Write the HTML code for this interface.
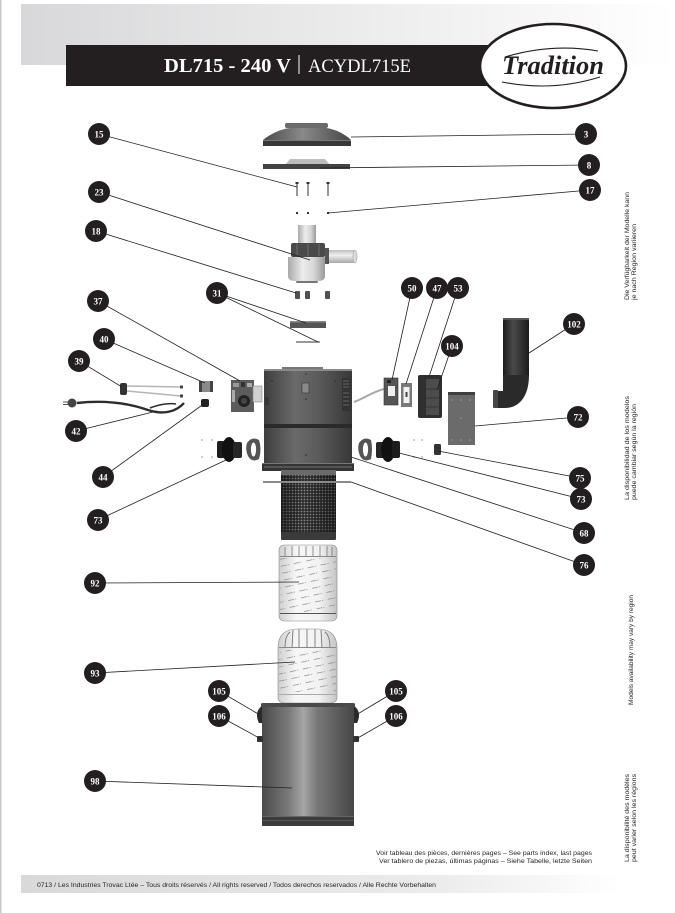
<!DOCTYPE html>
<html><head><meta charset="utf-8"><style>
html,body{margin:0;padding:0;background:#fff;}
body{width:675px;height:913px;overflow:hidden;}
svg{display:block;}
.c{fill:#231f20;}
.n{font-family:"Liberation Serif",serif;font-weight:bold;font-size:9px;fill:#fff;text-anchor:middle;}
.l{stroke:#231f20;stroke-width:0.8;fill:none;}
.s{font-family:"Liberation Sans",sans-serif;font-size:6px;fill:#231f20;}
</style></head><body>
<svg width="675" height="913" viewBox="0 0 675 913" xmlns="http://www.w3.org/2000/svg">
<defs>
<linearGradient id="hdr" x1="0" x2="1" y1="0" y2="0"><stop offset="0" stop-color="#d8d8da"/><stop offset="0.65" stop-color="#f1f1f1"/><stop offset="1" stop-color="#fff"/></linearGradient>
<linearGradient id="ftr" x1="0" x2="1" y1="0" y2="0"><stop offset="0" stop-color="#d9d9d9"/><stop offset="0.7" stop-color="#ececec"/><stop offset="1" stop-color="#fff"/></linearGradient>
<linearGradient id="gDark" x1="0" x2="1"><stop offset="0" stop-color="#3e3e3e"/><stop offset="0.35" stop-color="#6a6a6a"/><stop offset="0.6" stop-color="#5c5c5c"/><stop offset="1" stop-color="#383838"/></linearGradient>
<linearGradient id="gLight" x1="0" x2="1"><stop offset="0" stop-color="#a9a9a9"/><stop offset="0.4" stop-color="#ececec"/><stop offset="0.7" stop-color="#d6d6d6"/><stop offset="1" stop-color="#9a9a9a"/></linearGradient>
<linearGradient id="gLightV" x1="0" x2="0" y1="0" y2="1"><stop offset="0" stop-color="#bdbdbd"/><stop offset="0.4" stop-color="#f0f0f0"/><stop offset="1" stop-color="#a8a8a8"/></linearGradient>
<linearGradient id="gFilt" x1="0" x2="1"><stop offset="0" stop-color="#cfcfcf"/><stop offset="0.3" stop-color="#f7f7f7"/><stop offset="0.7" stop-color="#f2f2f2"/><stop offset="1" stop-color="#c4c4c4"/></linearGradient>
<linearGradient id="gCan" x1="0" x2="1"><stop offset="0" stop-color="#4a4a4a"/><stop offset="0.3" stop-color="#7c7c7c"/><stop offset="0.45" stop-color="#a6a6a6"/><stop offset="0.6" stop-color="#787878"/><stop offset="1" stop-color="#464646"/></linearGradient>
<linearGradient id="gBlk" x1="0" x2="1"><stop offset="0" stop-color="#1b1b1b"/><stop offset="0.4" stop-color="#4a4a4a"/><stop offset="1" stop-color="#1b1b1b"/></linearGradient>
<linearGradient id="gLid" x1="0" x2="1"><stop offset="0" stop-color="#4a4a4a"/><stop offset="0.45" stop-color="#8a8a8a"/><stop offset="1" stop-color="#454545"/></linearGradient>
<linearGradient id="shade" x1="0" x2="1"><stop offset="0" stop-color="#000" stop-opacity="0.45"/><stop offset="0.4" stop-color="#000" stop-opacity="0"/><stop offset="1" stop-color="#000" stop-opacity="0.45"/></linearGradient>
<pattern id="mesh" width="3" height="3" patternUnits="userSpaceOnUse"><rect width="3" height="3" fill="#2c2c2c"/><circle cx="1.5" cy="1.5" r="0.9" fill="#8c8c8c"/></pattern>
<pattern id="fdash" width="13" height="7" patternUnits="userSpaceOnUse" patternTransform="rotate(-12)"><rect x="1" y="3" width="6" height="0.7" fill="#8a8a8a"/><rect x="8" y="3" width="1.2" height="0.7" fill="#8a8a8a"/></pattern>
</defs>

<!-- page edge -->
<rect x="0" y="0" width="1.5" height="913" fill="#c8c8c8"/>

<!-- header -->
<rect x="21" y="4" width="654" height="61" fill="url(#hdr)"/>
<rect x="66" y="45" width="460" height="41" fill="#231f20"/>
<text x="164" y="72" font-family="Liberation Serif,serif" font-weight="bold" font-size="20" fill="#fff" textLength="127" lengthAdjust="spacingAndGlyphs">DL715 - 240 V</text>
<rect x="298.5" y="55" width="1" height="19" fill="#fff"/>
<text x="308" y="72" font-family="Liberation Serif,serif" font-size="19" fill="#fff" textLength="103" lengthAdjust="spacingAndGlyphs">ACYDL715E</text>
<ellipse cx="553" cy="66" rx="73" ry="42" fill="#fff" stroke="#231f20" stroke-width="2.6"/>
<path d="M505,57 Q552,43 598,51" stroke="#231f20" stroke-width="1.1" fill="none"/>
<path d="M502,82 Q552,92 600,77" stroke="#231f20" stroke-width="1.1" fill="none"/>
<text x="502" y="74" font-family="Liberation Serif,serif" font-weight="bold" font-style="italic" font-size="26" fill="#231f20" textLength="102" lengthAdjust="spacingAndGlyphs">Tradition</text>

<!-- side texts -->
<text class="s" transform="translate(629,300) rotate(-90)" textLength="108" lengthAdjust="spacingAndGlyphs">Die Verfügbarkeit der Modelle kann</text>
<text class="s" transform="translate(636,300) rotate(-90)" textLength="76" lengthAdjust="spacingAndGlyphs">je nach Region variieren</text>
<text class="s" transform="translate(629,500) rotate(-90)" textLength="104" lengthAdjust="spacingAndGlyphs">La disponibilidad de los modelos</text>
<text class="s" transform="translate(636,500) rotate(-90)" textLength="96" lengthAdjust="spacingAndGlyphs">puede cambiar según la región</text>
<text class="s" transform="translate(633,705) rotate(-90)" textLength="110" lengthAdjust="spacingAndGlyphs">Models availability may vary by region</text>
<text class="s" transform="translate(629,862) rotate(-90)" textLength="88" lengthAdjust="spacingAndGlyphs">La disponibilité des modèles</text>
<text class="s" transform="translate(636,862) rotate(-90)" textLength="88" lengthAdjust="spacingAndGlyphs">peut varier selon les régions</text>

<!-- footer -->
<text class="s" x="592" y="855" text-anchor="end" textLength="216" lengthAdjust="spacingAndGlyphs">Voir tableau des pièces, dernières pages – See parts index, last pages</text>
<text class="s" x="592" y="863" text-anchor="end" textLength="213" lengthAdjust="spacingAndGlyphs">Ver tablero de piezas, últimas páginas – Siehe Tabelle, letzte Seiten</text>
<rect x="21" y="875" width="600" height="18" fill="url(#ftr)"/>
<text class="s" x="37" y="887" textLength="399" lengthAdjust="spacingAndGlyphs">0713 / Les Industries Trovac Ltée – Tous droits réservés / All rights reserved / Todos derechos reservados / Alle Rechte Vorbehalten</text>

<!-- ===== PARTS ===== -->
<!-- lid 3 -->
<rect x="285" y="123" width="43" height="5" rx="2" fill="#6a6a6a"/>
<path d="M263,146 L263,140 C270,134 281,129 290,128 L326,128 C335,129 345,134 351,140 L351,146 Z" fill="url(#gLid)"/>
<rect x="263" y="141" width="88" height="5" fill="#383838"/>
<rect x="263" y="140" width="88" height="1" fill="#777"/>
<!-- gasket 8 -->
<path d="M285,165 L290,159 L325,159 L330,165 Z" fill="#bdbdbd"/>
<rect x="263" y="164" width="87" height="5" fill="#434343"/>
<!-- screws 15 -->
<g fill="#333">
<rect x="296.5" y="183" width="1" height="13"/><rect x="295.5" y="182" width="3" height="2"/>
<rect x="307.5" y="183" width="1" height="13"/><rect x="306.5" y="182" width="3" height="2"/>
<rect x="327.5" y="183" width="1" height="13"/><rect x="326.5" y="182" width="3" height="2"/>
<!-- nuts 17 -->
<rect x="296" y="212" width="2" height="2"/><rect x="307" y="212" width="2" height="2"/><rect x="327" y="212" width="2" height="2"/>
</g>
<!-- motor 23 -->
<rect x="298" y="225" width="18" height="20" fill="url(#gLight)"/>
<rect x="325" y="250" width="30" height="13" fill="url(#gLightV)"/>
<ellipse cx="355" cy="256.5" rx="2" ry="6.5" fill="#ddd" stroke="#999" stroke-width="0.5"/>
<path d="M288,257 L325,257 L325,276 Q325,281 318,281 L295,281 Q288,281 288,276 Z" fill="url(#gLight)"/>
<rect x="291" y="243" width="34" height="14" rx="2" fill="#4a4a4a"/>
<g stroke="#777" stroke-width="0.8"><line x1="297" y1="244" x2="297" y2="256"/><line x1="308" y1="244" x2="308" y2="256"/><line x1="319" y1="244" x2="319" y2="256"/></g>
<rect x="325" y="248" width="4" height="16" fill="#555"/>
<rect x="296" y="281" width="22" height="2" rx="1" fill="#777"/>
<!-- feet 18 -->
<g fill="#505050"><rect x="295" y="291" width="5" height="8" rx="1"/><rect x="305" y="291" width="5" height="8" rx="1"/><rect x="325" y="291" width="5" height="8" rx="1"/></g>
<!-- ring 31 -->
<rect x="290" y="321" width="36" height="7" fill="#555"/>
<rect x="290" y="321" width="36" height="1.5" fill="#8a8a8a"/>
<rect x="296" y="341" width="24" height="2" fill="#9a9a9a"/>

<!-- housing -->
<rect x="282" y="367" width="41" height="2" fill="#777"/>
<rect x="264" y="369" width="88" height="56" fill="url(#gDark)"/>
<rect x="264" y="369" width="88" height="2" fill="#8a8a8a"/>
<rect x="302" y="383" width="7" height="10" fill="#8a8a8a" stroke="#333" stroke-width="0.6"/>
<rect x="342" y="378" width="8" height="33" fill="#333"/>
<g stroke="#888" stroke-width="0.6"><line x1="343" y1="381" x2="349" y2="381"/><line x1="343" y1="384" x2="349" y2="384"/><line x1="343" y1="387" x2="349" y2="387"/><line x1="343" y1="393" x2="349" y2="393"/><line x1="343" y1="397" x2="349" y2="397"/><line x1="343" y1="401" x2="349" y2="401"/><line x1="343" y1="405" x2="349" y2="405"/></g>
<g stroke="#222" stroke-width="0.7"><line x1="265" y1="398" x2="269" y2="398"/><line x1="265" y1="400" x2="269" y2="400"/><line x1="265" y1="402" x2="269" y2="402"/><line x1="265" y1="404" x2="269" y2="404"/></g>
<g fill="#2a2a2a"><circle cx="306" cy="374" r="0.8"/><circle cx="306" cy="399" r="0.8"/><circle cx="272" cy="381" r="0.8"/><circle cx="335" cy="381" r="0.8"/></g>
<rect x="264" y="424" width="88" height="4" fill="#2a2a2a"/>
<rect x="264" y="428" width="88" height="36" fill="url(#gDark)"/>
<rect x="262" y="463" width="92" height="8" fill="#353535"/>
<rect x="262" y="463" width="92" height="1" fill="#777"/>
<rect x="264" y="466" width="88" height="2" fill="#555"/>
<circle cx="306" cy="455" r="0.8" fill="#2a2a2a"/>

<!-- cage 76 -->
<rect x="281" y="470" width="55" height="69" fill="url(#mesh)"/>
<rect x="281" y="470" width="55" height="69" fill="url(#shade)"/>
<rect x="281" y="470" width="55" height="5" fill="#6a6a6a"/>
<rect x="281" y="532" width="55" height="8" rx="1" fill="#3a3a3a"/>
<rect x="263" y="481" width="88" height="2" fill="#8a8a8a"/>

<!-- filter 92 -->
<rect x="279" y="545" width="58" height="76" rx="5" fill="url(#gFilt)" stroke="#888" stroke-width="0.6"/>
<rect x="280" y="558" width="56" height="54" fill="url(#fdash)"/>
<g stroke="#777" stroke-width="0.8"><line x1="285" y1="547" x2="285" y2="557"/><line x1="292" y1="546" x2="292" y2="557"/><line x1="299" y1="546" x2="299" y2="557"/><line x1="306" y1="546" x2="306" y2="557"/><line x1="313" y1="546" x2="313" y2="557"/><line x1="320" y1="546" x2="320" y2="557"/><line x1="327" y1="546" x2="327" y2="557"/><line x1="332" y1="547" x2="332" y2="557"/></g>
<rect x="280" y="556" width="56" height="1" fill="#888"/>
<rect x="280" y="613" width="56" height="1" fill="#555"/>

<!-- filter 93 -->
<path d="M278,648 Q278,629 298,629 L317,629 Q337,629 337,648 L337,697 Q337,703 330,703 L285,703 Q278,703 278,697 Z" fill="url(#gFilt)" stroke="#888" stroke-width="0.6"/>
<rect x="279" y="650" width="57" height="42" fill="url(#fdash)"/>
<g stroke="#777" stroke-width="0.9" fill="none"><path d="M285,647 Q285,636 290,632"/><path d="M292,647 L293,630"/><path d="M299,647 L299,629"/><path d="M307,647 L307,629"/><path d="M315,647 L315,629"/><path d="M322,647 L321,630"/><path d="M330,647 Q330,636 325,632"/></g>
<rect x="279" y="647" width="57" height="1" fill="#888"/>
<rect x="279" y="694" width="57" height="1" fill="#aaa"/>

<!-- canister 98 -->
<rect x="262" y="705" width="92" height="121" fill="url(#gCan)"/>
<rect x="261" y="703" width="94" height="4" rx="1.5" fill="#4a4a4a"/>
<rect x="262" y="816" width="92" height="10" fill="#3c3c3c"/>
<rect x="262" y="816" width="92" height="1" fill="#666"/>
<rect x="262" y="820" width="92" height="1" fill="#555"/>
<path d="M262,706 C256,710 256,717 259,723 L262,723 Z" fill="#2a2a2a"/>
<path d="M354,706 C360,710 360,717 357,723 L354,723 Z" fill="#2a2a2a"/>
<rect x="257" y="736" width="6" height="6" rx="1" fill="#333"/>
<rect x="353" y="736" width="6" height="6" rx="1" fill="#333"/>

<!-- left parts -->
<path d="M77,403 C105,400 128,403 148,410 C163,415 176,412 184,403" stroke="#2d2d2d" stroke-width="2.4" fill="none"/>
<path d="M150,408 C160,404 170,403 176,404" stroke="#2d2d2d" stroke-width="1.6" fill="none"/>
<circle cx="72" cy="403" r="4.5" fill="#444"/>
<rect x="63" y="401.5" width="6" height="1" fill="#555"/><rect x="63" y="404" width="6" height="1" fill="#555"/>
<rect x="120" y="383" width="7" height="12" rx="2" fill="#333"/>
<line x1="127" y1="386" x2="181" y2="387" stroke="#b5b5b5" stroke-width="1.5"/>
<line x1="127" y1="391" x2="181" y2="396" stroke="#b5b5b5" stroke-width="1.5"/>
<rect x="180" y="385.5" width="3" height="3" fill="#444"/><rect x="180" y="394.5" width="3" height="3" fill="#444"/>
<rect x="199" y="381" width="14" height="11" rx="2" fill="#8a8a8a"/>
<rect x="199" y="381" width="3" height="11" fill="#444"/><rect x="210" y="381" width="3" height="11" fill="#444"/>
<rect x="201" y="399" width="8" height="8" rx="2" fill="#222"/>
<!-- PCB 37 -->
<rect x="231" y="380" width="23" height="32" fill="#5c5c5c"/>
<rect x="253" y="386" width="9" height="16" fill="#d0d0d0" stroke="#888" stroke-width="0.6"/>
<rect x="233" y="383" width="6" height="4" fill="#999"/><rect x="241" y="382" width="4" height="5" fill="#333"/><rect x="247" y="383" width="5" height="4" fill="#aaa"/>
<rect x="232" y="390" width="3" height="12" fill="#aaa"/>
<circle cx="244" cy="401" r="6" fill="#222"/>
<circle cx="244" cy="401" r="3" fill="#444"/>
<!-- left elbow & gasket 73 -->
<rect x="217" y="441" width="8" height="17" rx="2" fill="#1d1d1d"/>
<ellipse cx="229" cy="449.5" rx="7" ry="12.5" fill="#111"/>
<rect x="233" y="442" width="9" height="16" rx="2" fill="#262626"/>
<path d="M247,443 Q252,436 259,440 Q262,449 259,459 Q252,463 248,456 Q245,449 247,443 Z" fill="#555"/>
<ellipse cx="253.5" cy="449.5" rx="2.6" ry="7" fill="#fff"/>
<g fill="#cfcfcf"><rect x="201" y="439" width="2" height="2"/><rect x="211" y="439" width="2" height="2"/><rect x="201" y="456" width="2" height="2"/><rect x="211" y="456" width="2" height="2"/></g>

<!-- right parts -->
<path d="M354,402 C365,398 372,392 384,389" stroke="#a8a8a8" stroke-width="2" fill="none"/>
<rect x="384" y="378" width="14" height="27" fill="#565656" stroke="#333" stroke-width="0.6"/>
<rect x="388" y="386" width="7" height="10" fill="#efefef"/>
<rect x="387" y="380" width="4" height="3" fill="#222"/>
<rect x="401" y="383" width="11" height="24" fill="#7a7a7a"/>
<rect x="403.5" y="387" width="6" height="16" fill="#f2f2f2"/>
<rect x="405.5" y="392" width="2" height="5" fill="#444"/>
<rect x="418" y="375" width="24" height="43" rx="2" fill="#2f2f2f"/>
<rect x="426" y="379" width="13" height="36" fill="#4c4c4c"/>
<g stroke="#2a2a2a" stroke-width="0.7"><line x1="426" y1="389" x2="439" y2="389"/><line x1="426" y1="398" x2="439" y2="398"/><line x1="426" y1="407" x2="439" y2="407"/></g>
<rect x="448" y="392" width="27" height="53" fill="#6b6b6b"/>
<rect x="448" y="392" width="27" height="3" fill="#3f3f3f"/>
<g fill="#9a9a9a"><circle cx="452" cy="400" r="0.8"/><circle cx="461" cy="400" r="0.8"/><circle cx="470" cy="400" r="0.8"/><circle cx="461" cy="418" r="0.8"/><circle cx="452" cy="440" r="0.8"/><circle cx="461" cy="440" r="0.8"/><circle cx="470" cy="440" r="0.8"/></g>
<!-- exhaust 102 -->
<rect x="503" y="318" width="26" height="60" rx="3" fill="url(#gBlk)"/>
<rect x="503" y="318" width="26" height="2" fill="#555"/>
<path d="M503,375 L529,375 C529,398 518,408 505,408 L497,408 L497,391 L503,391 Z" fill="#2a2a2a"/>
<rect x="493" y="390" width="5" height="18" rx="1" fill="#474747"/>
<!-- right gasket & elbow 73 -->
<path d="M359,443 Q364,436 371,440 Q373,449 371,459 Q364,463 360,456 Q357,449 359,443 Z" fill="#555"/>
<ellipse cx="365.5" cy="449.5" rx="2.6" ry="7" fill="#fff"/>
<rect x="376" y="442" width="9" height="16" rx="2" fill="#262626"/>
<ellipse cx="388" cy="449.5" rx="7" ry="12.5" fill="#111"/>
<rect x="392" y="441" width="8" height="17" rx="2" fill="#1d1d1d"/>
<g fill="#cfcfcf"><rect x="413" y="439" width="2" height="2"/><rect x="421" y="439" width="2" height="2"/><rect x="413" y="456" width="2" height="2"/><rect x="421" y="456" width="2" height="2"/></g>
<rect x="434" y="444" width="7" height="11" rx="1.5" fill="#333"/>

<!-- ===== LEADERS ===== -->
<g class="l">
<line x1="586" y1="134" x2="351" y2="137"/>
<line x1="589" y1="165" x2="320" y2="168"/>
<line x1="590" y1="190" x2="328" y2="213"/>
<line x1="99" y1="134" x2="297" y2="187"/>
<line x1="99" y1="192" x2="310" y2="260"/>
<line x1="96" y1="231" x2="296" y2="293"/>
<line x1="217" y1="293" x2="306" y2="323"/>
<line x1="217" y1="293" x2="318" y2="342"/>
<line x1="412" y1="288" x2="392" y2="380"/>
<line x1="437" y1="288" x2="406" y2="384"/>
<line x1="458" y1="288" x2="429" y2="377"/>
<line x1="98" y1="301" x2="240" y2="381"/>
<line x1="574" y1="324" x2="529" y2="353"/>
<line x1="104" y1="339" x2="205" y2="383"/>
<line x1="452" y1="346" x2="437" y2="390"/>
<line x1="79" y1="361" x2="122" y2="387"/>
<line x1="578" y1="417" x2="475" y2="426"/>
<line x1="76" y1="431" x2="157" y2="411"/>
<line x1="103" y1="477" x2="205" y2="403"/>
<line x1="580" y1="478" x2="438" y2="451"/>
<line x1="581" y1="499" x2="399" y2="453"/>
<line x1="98" y1="520" x2="226" y2="460"/>
<line x1="584" y1="533" x2="351" y2="457"/>
<line x1="584" y1="565" x2="351" y2="482"/>
<line x1="95" y1="583" x2="299" y2="582"/>
<line x1="95" y1="673" x2="295" y2="662"/>
<line x1="219" y1="691" x2="260" y2="715"/>
<line x1="219" y1="716" x2="261" y2="739"/>
<line x1="396" y1="691" x2="356" y2="715"/>
<line x1="396" y1="716" x2="356" y2="739"/>
<line x1="95" y1="781" x2="292" y2="788"/>
</g>

<!-- ===== CALLOUTS ===== -->
<g>
<circle class="c" cx="586" cy="134" r="11"/><text class="n" x="586" y="137.5">3</text>
<circle class="c" cx="589" cy="165" r="11"/><text class="n" x="589" y="168.5">8</text>
<circle class="c" cx="590" cy="190" r="11"/><text class="n" x="590" y="193.5">17</text>
<circle class="c" cx="99" cy="134" r="11"/><text class="n" x="99" y="137.5">15</text>
<circle class="c" cx="99" cy="192" r="11"/><text class="n" x="99" y="195.5">23</text>
<circle class="c" cx="96" cy="231" r="11"/><text class="n" x="96" y="234.5">18</text>
<circle class="c" cx="217" cy="293" r="11"/><text class="n" x="217" y="296.5">31</text>
<circle class="c" cx="412" cy="288" r="11"/><text class="n" x="412" y="291.5">50</text>
<circle class="c" cx="437" cy="288" r="11"/><text class="n" x="437" y="291.5">47</text>
<circle class="c" cx="458" cy="288" r="11"/><text class="n" x="458" y="291.5">53</text>
<circle class="c" cx="98" cy="301" r="11"/><text class="n" x="98" y="304.5">37</text>
<circle class="c" cx="574" cy="324" r="11"/><text class="n" x="574" y="327.5">102</text>
<circle class="c" cx="104" cy="339" r="11"/><text class="n" x="104" y="342.5">40</text>
<circle class="c" cx="452" cy="346" r="11"/><text class="n" x="452" y="349.5">104</text>
<circle class="c" cx="79" cy="361" r="11"/><text class="n" x="79" y="364.5">39</text>
<circle class="c" cx="578" cy="417" r="11"/><text class="n" x="578" y="420.5">72</text>
<circle class="c" cx="76" cy="431" r="11"/><text class="n" x="76" y="434.5">42</text>
<circle class="c" cx="103" cy="477" r="11"/><text class="n" x="103" y="480.5">44</text>
<circle class="c" cx="580" cy="478" r="11"/><text class="n" x="580" y="481.5">75</text>
<circle class="c" cx="581" cy="499" r="11"/><text class="n" x="581" y="502.5">73</text>
<circle class="c" cx="98" cy="520" r="11"/><text class="n" x="98" y="523.5">73</text>
<circle class="c" cx="584" cy="533" r="11"/><text class="n" x="584" y="536.5">68</text>
<circle class="c" cx="584" cy="565" r="11"/><text class="n" x="584" y="568.5">76</text>
<circle class="c" cx="95" cy="583" r="11"/><text class="n" x="95" y="586.5">92</text>
<circle class="c" cx="95" cy="673" r="11"/><text class="n" x="95" y="676.5">93</text>
<circle class="c" cx="219" cy="691" r="11"/><text class="n" x="219" y="694.5">105</text>
<circle class="c" cx="219" cy="716" r="11"/><text class="n" x="219" y="719.5">106</text>
<circle class="c" cx="396" cy="691" r="11"/><text class="n" x="396" y="694.5">105</text>
<circle class="c" cx="396" cy="716" r="11"/><text class="n" x="396" y="719.5">106</text>
<circle class="c" cx="95" cy="781" r="11"/><text class="n" x="95" y="784.5">98</text>
</g>
</svg>
</body></html>
